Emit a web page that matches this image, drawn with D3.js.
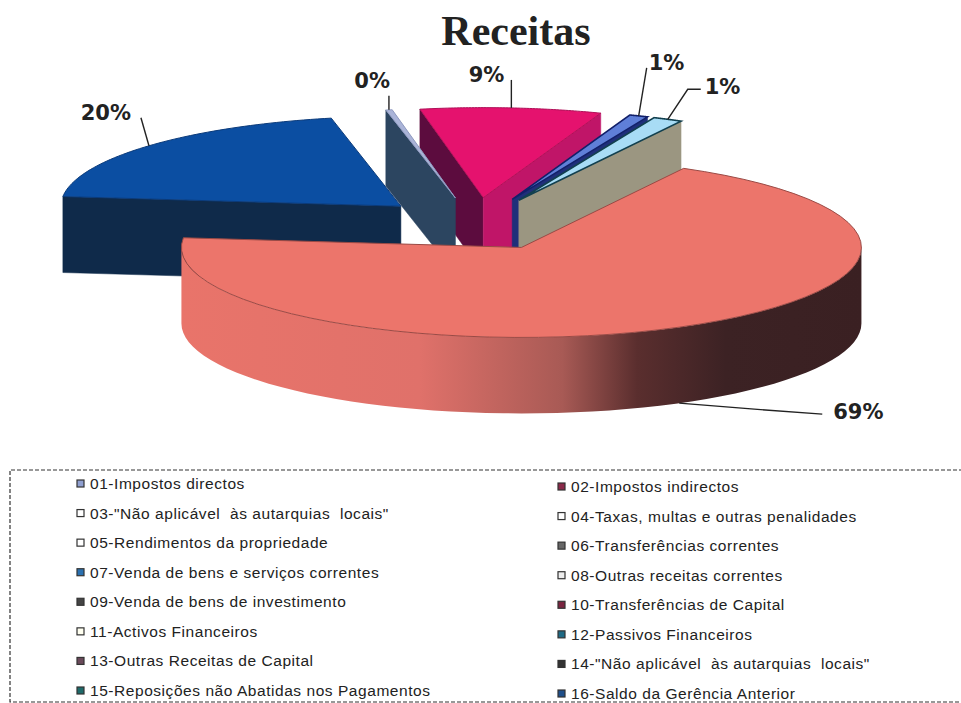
<!DOCTYPE html>
<html>
<head>
<meta charset="utf-8">
<title>Receitas</title>
<script src="https://cdn.jsdelivr.net/npm/d3@7/dist/d3.min.js"></script>
<style>
    body {margin: 0; background: #fff;}
    svg {display: block;}
    .title {font-family: "Liberation Serif", serif; font-weight: bold; font-size: 42px; fill: #222;}
    .pct {font-family: "DejaVu Sans", sans-serif; font-weight: bold; font-size: 21px; fill: #222;}
    .leader {fill: none; stroke: #222; stroke-width: 1.4;}
    .legendText {font-family: "Liberation Sans", sans-serif; font-size: 15.5px; fill: #222;}
</style>
</head>
<body>
<div id="plot"></div>
<script>
//data, clockwise from the big slice
var sliceValues = [68.8, 20, 0.3, 8.6, 0.9, 1.4];
var sliceTop = ['#ec756b', '#0b4ea2', '#aab4d8', '#e5126e', '#5f7fd8', '#a8dcf5'];
var sliceEdge = ['#9a4a45', '#0a3a7a', '#8f9ac0', '#b01058', '#12206a', '#12404f'];
var sliceStartWall = ['#ec756b', '#0f2a4a', '#2c4560', '#5c0c3e', '#1f2f7a', '#12404f'];
var sliceEndWall = ['#ec756b', '#0f2a4a', '#2c4560', '#c01568', '#1f2f7a', '#9b9681'];

var legendLeft = ['01-Impostos directos', '03-"Não aplicável  às autarquias  locais"', '05-Rendimentos da propriedade',
    '07-Venda de bens e serviços correntes', '09-Venda de bens de investimento', '11-Activos Financeiros',
    '13-Outras Receitas de Capital', '15-Reposições não Abatidas nos Pagamentos'];
var legendRight = ['02-Impostos indirectos', '04-Taxas, multas e outras penalidades', '06-Transferências correntes',
    '08-Outras receitas correntes', '10-Transferências de Capital', '12-Passivos Financeiros',
    '14-"Não aplicável  às autarquias  locais"', '16-Saldo da Gerência Anterior'];
var swatchLeft = ['#8f9fd0', '#fff', '#fff', '#2a70b0', '#444', '#fffff0', '#6a4a5a', '#1f6a6a'];
var swatchRight = ['#8a2a4a', '#fff', '#666', '#eee', '#7a2540', '#1f6a85', '#333', '#1f4f8a'];

//layout
var width = 961, height = 703;
var center = {x: 475, y: 224};
var radiusX = 340, radiusY = 90, depth = 76, explode = 100;
var startDeg = 28.5;
var drawOrder = [3, 2, 1, 4, 5, 0]; // back to front

// leader lines: elbow offsets from the slice edge, and where the text sits from the last point
var leaderBend = [[75, 6], [-8, -28], [0, -14], [0, -28], [8, -48], [20, -30]];
var leaderTail = [[143, 11], [-8, -28], [0, -14], [0, -28], [8, -48], [33, -30]];
var labelShift = [[154, 5], [-10, 2], [1, -8], [-7, 2], [2, 2], [4, 5]];
var labelAnchor = ['start', 'end', 'end', 'end', 'start', 'start'];

var plot = d3.select('#plot')
    .append('svg')
    .attr('width', width)
    .attr('height', height);

var scaleX = d3.scaleLinear().domain([-1, 1]).range([-radiusX, radiusX]);
var scaleY = d3.scaleLinear().domain([-1, 1]).range([-radiusY, radiusY]);

var pie = d3.pie()
    .sort(null)
    .startAngle(startDeg * Math.PI / 180)
    .endAngle(startDeg * Math.PI / 180 + 2 * Math.PI);
var slices = pie(sliceValues);

// apex of every slice, pushed out along its middle angle
slices.forEach(function(d) {
    var mid = (d.startAngle + d.endAngle) / 2;
    d.mid = mid;
    d.apex = {
        x: center.x + explode * scaleX(Math.sin(mid)) / radiusX,
        y: center.y + explode * scaleY(-Math.cos(mid)) / radiusX
    };
});

function rim(d, angle, z) {
    return [d.apex.x + scaleX(Math.sin(angle)), d.apex.y + scaleY(-Math.cos(angle)) + z];
}

function arcPoints(d, a0, a1, z) {
    return d3.range(0, 61).map(function(i) {
        return rim(d, a0 + (a1 - a0) * i / 60, z);
    });
}

var line = d3.line().curve(d3.curveLinear);

// side of the big slice gets darker to the right
var fade = plot.append('defs').append('linearGradient')
    .attr('id', 'wallFade')
    .attr('gradientUnits', 'userSpaceOnUse')
    .attr('x1', 181).attr('x2', 862).attr('y1', 0).attr('y2', 0);
[[0, '#e9746a'], [0.35, '#e0716a'], [0.56, '#a85a55'], [0.67, '#5a2e2e'], [0.8, '#3c2224'], [1, '#3a2022']].forEach(function(s) {
    fade.append('stop').attr('offset', s[0]).attr('stop-color', s[1]);
});

//title
plot.append('text')
    .attr('class', 'title')
    .attr('x', 516)
    .attr('y', 45)
    .attr('text-anchor', 'middle')
    .text('Receitas');

//slices
var plotSlices = plot.append('g').attr('class', 'slices');

drawOrder.forEach(function(i) {
    var d = slices[i];
    var g = plotSlices.append('g');
    var ax = d.apex.x, ay = d.apex.y;

    function radialWall(angle, color) {
        var p = rim(d, angle, 0), q = rim(d, angle, depth);
        g.append('path')
            .attr('d', line([[ax, ay], p, q, [ax, ay + depth]]) + 'Z')
            .attr('fill', color)
            .attr('stroke', color)
            .attr('stroke-width', 0.5);
    }

    if (Math.sin(d.startAngle) < 0) radialWall(d.startAngle, sliceStartWall[i]);
    if (Math.sin(d.endAngle) > 0) radialWall(d.endAngle, sliceEndWall[i]);

    // outer wall, only the part that faces the front
    var a0 = Math.max(d.startAngle, Math.PI / 2), a1 = Math.min(d.endAngle, 3 * Math.PI / 2);
    if (a0 < a1) {
        var upper = arcPoints(d, a0, a1, 0);
        var lower = arcPoints(d, a1, a0, depth);
        g.append('path')
            .attr('d', line(upper.concat(lower)) + 'Z')
            .attr('fill', 'url(#wallFade)');
    }

    g.append('path')
        .attr('d', line([[ax, ay]].concat(arcPoints(d, d.startAngle, d.endAngle, 0))) + 'Z')
        .attr('fill', sliceTop[i])
        .attr('stroke', sliceEdge[i])
        .attr('stroke-width', i === 4 || i === 5 ? 1.6 : 1);
});

//labels
var plotLabels = plot.append('g').attr('class', 'labels');

slices.forEach(function(d, i) {
    // the big slice is hit on the bottom of its wall
    var start = rim(d, d.mid, i === 0 ? depth : 0);
    var bend = [start[0] + leaderBend[i][0], start[1] + leaderBend[i][1]];
    var tail = [start[0] + leaderTail[i][0], start[1] + leaderTail[i][1]];

    plotLabels.append('path')
        .attr('class', 'leader')
        .attr('d', line([start, bend, tail]));

    plotLabels.append('text')
        .attr('class', 'pct')
        .attr('x', tail[0] + labelShift[i][0] - (i === 0 ? 143 : 0))
        .attr('y', tail[1] + labelShift[i][1])
        .attr('text-anchor', labelAnchor[i])
        .text(Math.round(d.value) + '%');
});

//legend
var scaleRow = d3.scaleLinear().domain([0, 7]).range([484, 691]);

plot.append('path')
    .attr('d', 'M' + (width + 2) + ',470H10V702H' + (width + 2))
    .attr('fill', 'none')
    .attr('stroke', '#333')
    .attr('stroke-width', 1.2)
    .attr('stroke-dasharray', '4,2');

function drawLegend(names, colors, x, dy) {
    var rows = plot.append('g')
        .attr('class', 'legend')
        .selectAll('g')
        .data(names)
        .enter()
        .append('g')
        .attr('transform', function(d, i) { return 'translate(' + x + ',' + (scaleRow(i) + dy) + ')'; });

    rows.append('rect')
        .attr('x', 0)
        .attr('y', -4)
        .attr('width', 7)
        .attr('height', 7)
        .attr('fill', function(d, i) { return colors[i]; })
        .attr('stroke', '#333')
        .attr('stroke-width', 1.2);

    rows.append('text')
        .attr('class', 'legendText')
        .attr('x', 13)
        .attr('y', 5)
        .attr('xml:space', 'preserve')
        .style('white-space', 'pre')
        .style('letter-spacing', '0.55px')
        .text(function(d) { return d; });
}

drawLegend(legendLeft, swatchLeft, 77, 0);
drawLegend(legendRight, swatchRight, 558, 3);
</script>
</body>
</html>
